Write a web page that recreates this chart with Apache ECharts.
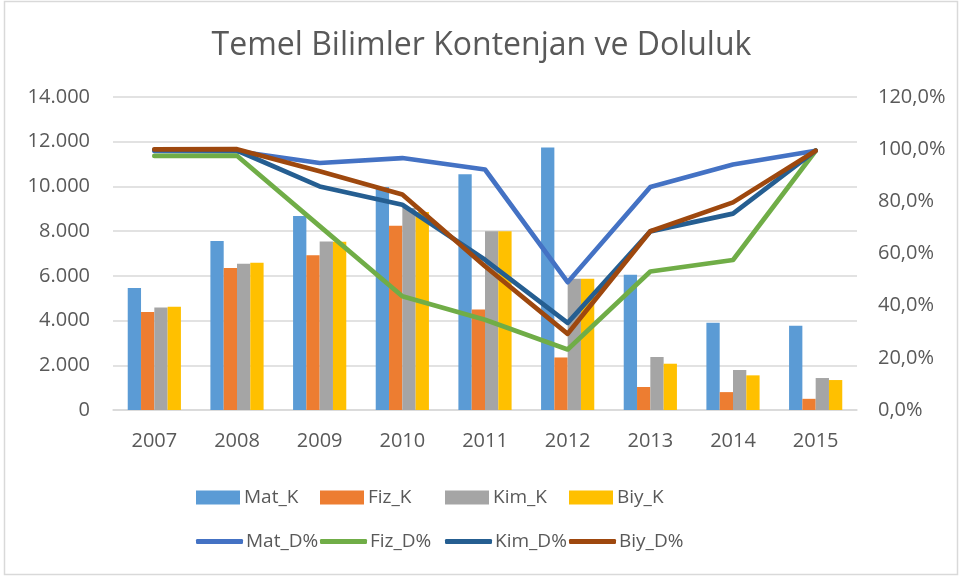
<!DOCTYPE html>
<html><head><meta charset="utf-8">
<script src="https://cdn.jsdelivr.net/npm/echarts@6/dist/echarts.min.js"></script>
<style>html,body{margin:0;padding:0;background:#fff}#c{width:963px;height:579px}</style>
</head><body><div id="c"></div>
<script>
const years = ['2007','2008','2009','2010','2011','2012','2013','2014','2015'];
const matK = [5460, 7560, 8680, 9970, 10550, 11740, 6050, 3900, 3770];
const fizK = [4380, 6350, 6920, 8240, 4490, 2350, 1030, 800, 500];
const kimK = [4590, 6540, 7540, 9030, 7990, 5870, 2370, 1790, 1430];
const biyK = [4620, 6590, 7530, 8860, 7990, 5870, 2070, 1550, 1340];
const matD = [0.993, 0.992, 0.947, 0.966, 0.922, 0.490, 0.855, 0.941, 0.994];
const fizD = [0.974, 0.975, 0.705, 0.436, 0.346, 0.232, 0.531, 0.575, 0.994];
const kimD = [0.997, 0.995, 0.857, 0.787, 0.576, 0.334, 0.685, 0.753, 0.994];
const biyD = [0.999, 1.000, 0.915, 0.826, 0.551, 0.292, 0.685, 0.796, 0.994];
const leftTicks = {min: 0, max: 14000, interval: 2000};
const rightTicks = {min: 0, max: 1.2, interval: 0.2};

const txt = '#595959';
const font = 'Open Sans';
const chart = echarts.init(document.getElementById('c'), null, {renderer: 'canvas'});
function fmtThousands(v){ return String(v).replace(/\B(?=(\d{3})+(?!\d))/g, '.'); }
function fmtPct(v){ return (v*100).toFixed(1).replace('.', ',') + '%'; }
const legendX = [196, 320, 445, 569];
const barNames = ['Mat_K','Fiz_K','Kim_K','Biy_K'];
const lineNames = ['Mat_D%','Fiz_D%','Kim_D%','Biy_D%'];
const legends = [];
barNames.forEach((n,i)=>legends.push({data:[n], left: legendX[i], top: 488, itemWidth: 44, itemHeight: 14, itemGap: 0, icon:'rect', padding:0, textStyle:{color: txt, fontSize: 19, fontFamily: font, padding:[0,0,0,-1]}}));
lineNames.forEach((n,i)=>legends.push({data:[n], left: legendX[i], top: 532, itemWidth: 47, itemHeight: 5, itemGap: 0, icon:'roundRect', padding:0, textStyle:{color: txt, fontSize: 19, fontFamily: font, padding:[0,0,0,-2]}}));

const barColors = ['#5B9BD5','#ED7D31','#A5A5A5','#FFC000'];
const lineColors = ['#4472C4','#70AD47','#255E91','#9E480E'];
const barData = [matK, fizK, kimK, biyK];
const lineData = [matD, fizD, kimD, biyD];
const series = [];
barNames.forEach((n,i)=>series.push({name:n, type:'bar', yAxisIndex:0, data: barData[i], barWidth: 13.3, barGap: '0%', barCategoryGap:'36%', itemStyle:{color: barColors[i]}, z:2}));
lineNames.forEach((n,i)=>series.push({name:n, type:'line', yAxisIndex:1, data: lineData[i], symbol:'none', lineStyle:{color: lineColors[i], width: 4.7, cap:'round', join:'round'}, itemStyle:{color: lineColors[i]}, z:3+i}));

chart.setOption({
  animation: false,
  backgroundColor: '#fff',
  textStyle: {fontFamily: font},
  title: {text: 'Temel Bilimler Kontenjan ve Doluluk', left: 'center', top: 25, textStyle:{color: txt, fontSize: 32, fontWeight: 'normal', fontFamily: font}},
  legend: legends,
  grid: {left: 113, right: 106, top: 97, bottom: 169, containLabel: false},
  xAxis: {type:'category', data: years, axisLine:{lineStyle:{color:'#d9d9d9', width: 1.5}}, axisTick:{show:false}, axisLabel:{color: txt, fontSize: 20, fontFamily: font, margin: 21}},
  yAxis: [
    {type:'value', min: leftTicks.min, max: leftTicks.max, interval: leftTicks.interval, axisLine:{show:false}, axisTick:{show:false}, splitLine:{lineStyle:{color:'#d9d9d9', width: 1.5}}, axisLabel:{color: txt, fontSize: 20, fontFamily: font, margin: 23, formatter: fmtThousands}},
    {type:'value', min: rightTicks.min, max: rightTicks.max, interval: rightTicks.interval, axisLine:{show:false}, axisTick:{show:false}, splitLine:{show:false}, axisLabel:{color: txt, fontSize: 20, fontFamily: font, margin: 21, formatter: fmtPct}}
  ],
  series: series,
  graphic: [{type:'rect', shape:{x:4.5, y:1.5, width:953, height:573}, style:{fill:'none', stroke:'#d9d9d9', lineWidth:1.5}, silent:true, z:-1}]
});
</script></body></html>
